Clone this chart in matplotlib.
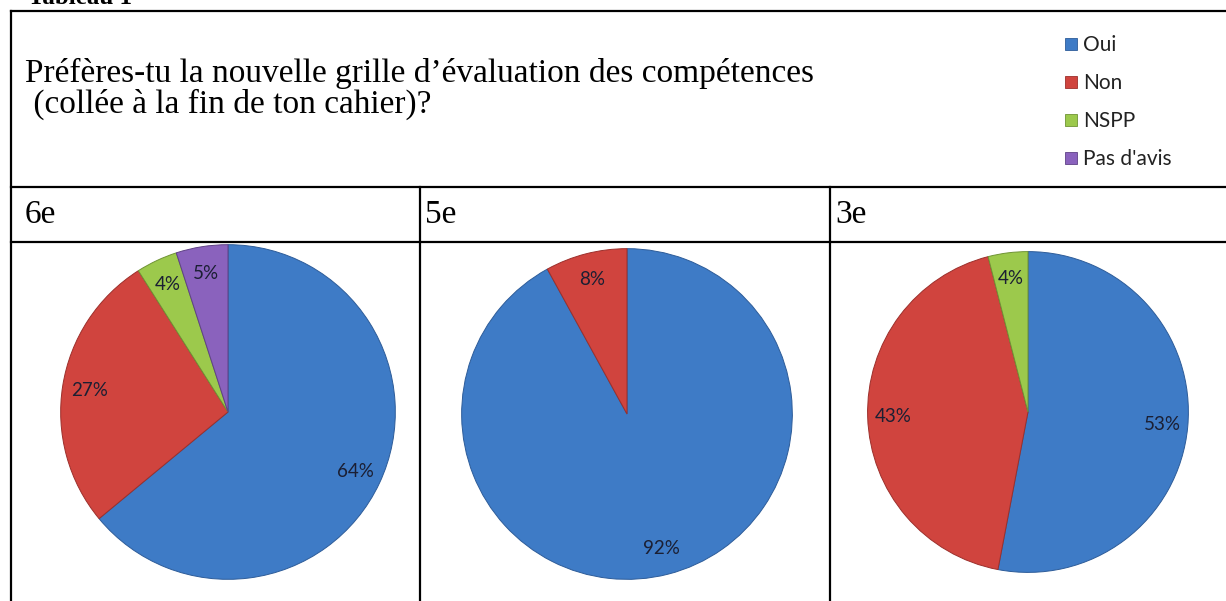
import matplotlib.pyplot as plt
from matplotlib.patches import Patch

W, H = 1226, 601

# Data
categories = ["Oui", "Non", "NSPP", "Pas d'avis"]
colors = ["#3e7bc6", "#d0443e", "#9cc94c", "#8a62bd"]
edges = ["#2d5c99", "#9c2f2b", "#6f9334", "#5f4186"]
classes = ["6e", "5e", "3e"]
values_6e = [64, 27, 4, 5]
values_5e = [92, 8, 0, 0]
values_3e = [53, 43, 4, 0]
all_values = [values_6e, values_5e, values_3e]

title_lines = ["Préfères-tu la nouvelle grille d\u2019évaluation des compétences",
               " (collée à la fin de ton cahier)?"]

fig = plt.figure(figsize=(W / 100, H / 100), dpi=100)

# background axes in pixel coordinates for the table
bg = fig.add_axes([0, 0, 1, 1])
bg.set_xlim(0, W)
bg.set_ylim(H, 0)
bg.axis("off")

lw = 1.6
bg.plot([11, W], [11, 11], color="black", lw=lw)
bg.plot([11, 11], [11, H], color="black", lw=lw)
bg.plot([11, W], [187, 187], color="black", lw=lw)
bg.plot([11, W], [242, 242], color="black", lw=lw)
for x in [420, 830]:
    bg.plot([x, x], [187, H], color="black", lw=lw)

serif = "Liberation Serif"
bg.text(28, 4, "Tableau 1", fontsize=18, fontweight="bold", family=serif, va="baseline")
bg.text(25, 82, title_lines[0], fontsize=24, family=serif, va="baseline")
bg.text(25, 113, title_lines[1], fontsize=24, family=serif, va="baseline")
for x, cls in zip([25, 425, 835], classes):
    bg.text(x, 223, cls, fontsize=24, family=serif, va="baseline")

# legend
handles = [Patch(facecolor=c, edgecolor=e, lw=0.6) for c, e in zip(colors, edges)]
leg = fig.legend(handles, categories, loc="upper left", bbox_to_anchor=(1055 / W, 1 - 25 / H),
                 frameon=False, prop={"family": "Lato", "size": 15}, labelspacing=0.86,
                 handlelength=0.55, handleheight=0.55, handletextpad=0.3, borderpad=0)
for t in leg.get_texts():
    t.set_color("#222222")

# pies: center x, center y, radius in pixels
centers = [(228, 412, 169), (627, 414, 167), (1028, 412, 162)]
for (cx, cy, r), vals in zip(centers, all_values):
    ax = fig.add_axes([(cx - r) / W, 1 - (cy + r) / H, 2 * r / W, 2 * r / H])
    idx = [i for i, v in enumerate(vals) if v > 0]
    wedges, _, autotexts = ax.pie([vals[i] for i in idx], colors=[colors[i] for i in idx],
                                  startangle=90, counterclock=False, radius=1,
                                  autopct="%1.0f%%", pctdistance=0.84,
                                  textprops={"family": "Lato", "size": 13.5, "color": "#1b1f33"})
    for w, i in zip(wedges, idx):
        w.set_edgecolor(edges[i])
        w.set_linewidth(0.7)
    ax.set_xlim(-1.01, 1.01)
    ax.set_ylim(-1.01, 1.01)

fig.savefig("out.png", dpi=100)
